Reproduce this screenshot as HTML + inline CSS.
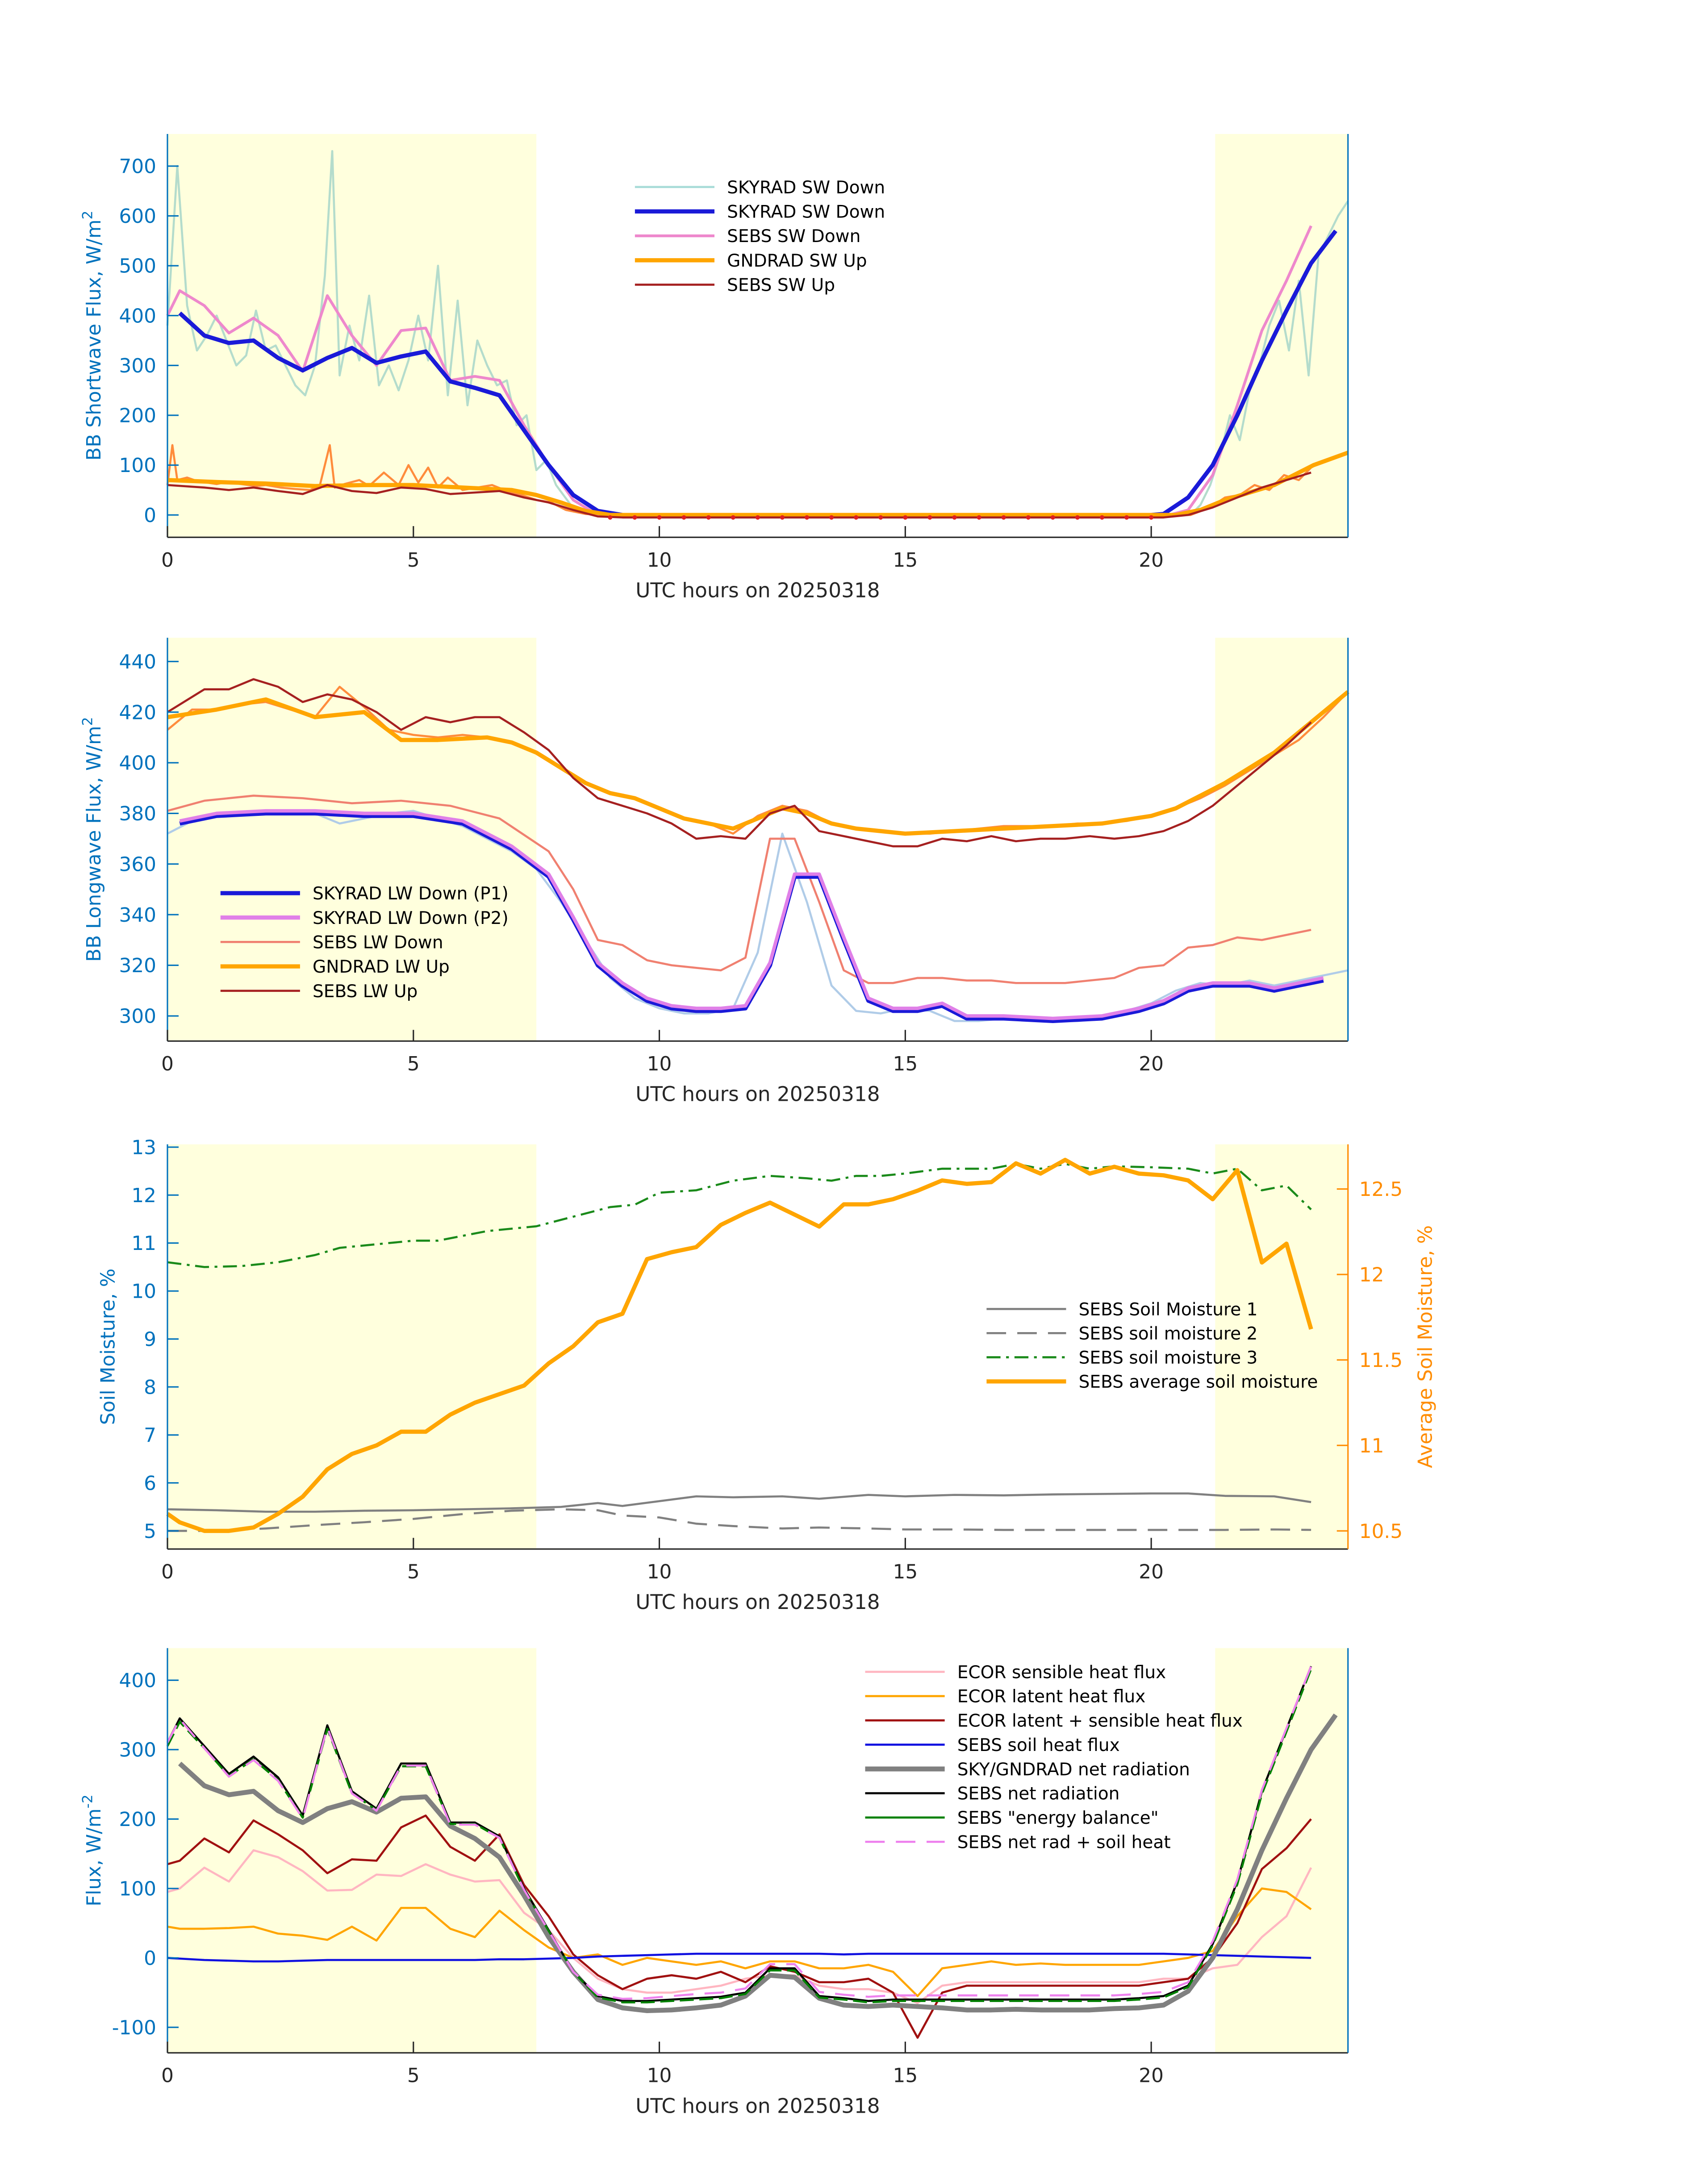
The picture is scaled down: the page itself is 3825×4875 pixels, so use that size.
<!DOCTYPE html>
<html><head><meta charset="utf-8"><style>
html,body{margin:0;padding:0;background:#fff;}
svg{display:block;font-family:"DejaVu Sans","Liberation Sans",sans-serif;}
</style></head><body>
<svg id="chart" xmlns="http://www.w3.org/2000/svg" width="3825" height="4875" viewBox="0 0 1224 1560"></svg>
<script>
// ---------- DATA ----------
// Panel 1: shortwave
const swDownT = [0.25,0.75,1.25,1.75,2.25,2.75,3.25,3.75,4.25,4.75,5.25,5.75,6.25,6.75,7.25,7.75,8.25,8.75,9.25,20,20.25,20.75,21.25,21.75,22.25,22.75,23.25,23.75];
const swDownV = [405,360,345,350,315,290,315,335,305,318,328,268,255,240,170,100,40,8,0,0,2,35,100,200,310,410,505,570];
const sebsSwDownT = [0,0.25,0.75,1.25,1.75,2.25,2.75,3.25,3.75,4.25,4.75,5.25,5.75,6.25,6.75,7.25,7.75,8.25,8.75,9.25,20.25,20.75,21.25,21.75,22.25,22.75,23.25];
const sebsSwDownV = [400,450,420,365,395,360,288,440,360,300,370,375,270,278,270,180,100,30,0,-3,-3,10,80,220,370,470,580];
const swLightT = [0,0.2,0.4,0.6,0.8,1,1.2,1.4,1.6,1.8,2,2.2,2.4,2.6,2.8,3,3.2,3.35,3.5,3.7,3.9,4.1,4.3,4.5,4.7,4.9,5.1,5.3,5.5,5.7,5.9,6.1,6.3,6.5,6.7,6.9,7.1,7.3,7.5,7.7,7.9,8.2,8.6,9,20.8,21,21.2,21.4,21.6,21.8,22,22.2,22.4,22.6,22.8,23,23.2,23.4,23.6,23.8,24];
const swLightV = [380,700,420,330,360,400,350,300,320,410,330,340,300,260,240,300,480,730,280,380,310,440,260,300,250,310,400,310,500,240,430,220,350,300,260,270,180,200,90,110,60,20,5,0,0,20,60,120,200,150,250,300,380,430,330,470,280,520,560,600,630];
const gndSwUpT = [0,1,2,3,4,5,6,7,7.5,8,8.5,9,20.5,21,21.5,22,22.5,23,23.3,24];
const gndSwUpV = [70,66,63,58,60,60,55,50,40,25,8,0,0,10,30,45,60,85,100,125];
const swUpNoisyT = [0,0.1,0.2,0.4,0.6,0.8,1,1.2,1.5,1.8,2,2.3,2.6,2.9,3.1,3.3,3.4,3.6,3.9,4.1,4.4,4.7,4.9,5.1,5.3,5.5,5.7,6,6.3,6.6,6.9,7.2,7.5,7.8,8.1,8.5,9,20.8,21.2,21.5,21.8,22.1,22.4,22.7,23,23.3,23.6,24];
const swUpNoisyV = [60,140,70,75,68,65,62,66,62,58,60,55,52,50,60,140,55,62,70,58,85,60,100,65,95,55,75,50,55,60,48,40,30,25,10,2,0,0,15,35,40,60,50,80,70,100,110,125];
const sebsSwUpT = [0,0.75,1.25,1.75,2.25,2.75,3.25,3.75,4.25,4.75,5.25,5.75,6.25,6.75,7.25,7.75,8.25,8.75,9.25,20.25,20.75,21.25,21.75,22.25,22.75,23.25];
const sebsSwUpV = [60,55,50,55,48,42,60,48,44,55,52,42,45,48,35,25,10,-3,-5,-5,0,15,35,55,70,85];
const swUpDotsT = [9,9.5,10,10.5,11,11.5,12,12.5,13,13.5,14,14.5,15,15.5,16,16.5,17,17.5,18,18.5,19,19.5,20];

// Panel 2: longwave
const lwT = [0.25,1,2,3,4,5,6,7,7.75,8.25,8.75,9.25,9.75,10.25,10.75,11.25,11.75,12.25,12.75,13.25,13.75,14.25,14.75,15.25,15.75,16.25,17,18,19,19.75,20.25,20.75,21.25,22,22.5,23,23.5];
const lwDownP1 = [376,379,380,380,379,379,376,366,355,338,320,312,306,303,302,302,303,320,355,355,330,306,302,302,304,299,299,298,299,302,305,310,312,312,310,312,314];
const lwDownP2 = [377,380,381,381,380,380,377,367,356,339,321,313,307,304,303,303,304,321,356,356,331,307,303,303,305,300,300,299,300,303,306,311,313,313,311,313,315];
const sebsLwDownT = [0,0.75,1.75,2.75,3.75,4.75,5.75,6.75,7.75,8.25,8.75,9.25,9.75,10.25,10.75,11.25,11.75,12.25,12.75,13.25,13.75,14.25,14.75,15.25,15.75,16.25,16.75,17.25,17.75,18.25,19.25,19.75,20.25,20.75,21.25,21.75,22.25,22.75,23.25];
const sebsLwDownV = [381,385,387,386,384,385,383,378,365,350,330,328,322,320,319,318,323,370,370,345,318,313,313,315,315,314,314,313,313,313,315,319,320,327,328,331,330,332,334];
const gndLwUpT = [0,1,2,3,4,4.75,5.5,6.5,7,7.5,8,8.5,9,9.5,10,10.5,11,11.5,12,12.5,13,13.5,14,15,16,17,18,19,20,20.5,21,21.5,22,22.5,23,24];
const gndLwUpV = [418,421,425,418,420,409,409,410,408,404,398,392,388,386,382,378,376,374,378,382,380,376,374,372,373,374,375,376,379,382,387,392,398,404,412,428];
const sebsLwUpT = [0,0.75,1.25,1.75,2.25,2.75,3.25,3.75,4.25,4.75,5.25,5.75,6.25,6.75,7.25,7.75,8.25,8.75,9.25,9.75,10.25,10.75,11.25,11.75,12.25,12.75,13.25,13.75,14.25,14.75,15.25,15.75,16.25,16.75,17.25,17.75,18.25,18.75,19.25,19.75,20.25,20.75,21.25,21.75,22.25,22.75,23.25];
const sebsLwUpV = [420,429,429,433,430,424,427,425,420,413,418,416,418,418,412,405,394,386,383,380,376,370,371,370,380,383,373,371,369,367,367,370,369,371,369,370,370,371,370,371,373,377,383,391,399,407,416];
const lwUpNoisy = [413,421,421,423,424,421,418,430,422,413,411,410,411,410,408,404,398,392,388,386,382,378,376,372,379,383,381,376,374,373,372,372,373,374,375,375,375,376,376,377,379,382,386,391,397,403,409,418,428];
const lwDownNoisy = [372,377,379,380,380,381,380,376,378,380,381,378,375,370,365,358,345,330,315,307,303,301,301,303,325,372,345,312,302,301,303,302,298,298,299,299,298,298,299,302,305,310,313,312,314,312,314,316,318];

// Panel 3: soil moisture
const soilT = [0,1,2,3,4,5,6,7,8,8.75,9.25,10,10.75,11.5,12.5,13.25,14.25,15,16,17,18,19,20,20.75,21.5,22.5,23.25];
const soil1 = [5.45,5.43,5.4,5.4,5.42,5.43,5.45,5.47,5.5,5.58,5.52,5.62,5.72,5.7,5.72,5.67,5.75,5.72,5.75,5.74,5.76,5.77,5.78,5.78,5.73,5.72,5.6];
const soil2 = [5.0,5.0,5.05,5.12,5.18,5.25,5.35,5.42,5.45,5.43,5.32,5.28,5.15,5.1,5.05,5.07,5.05,5.03,5.03,5.02,5.02,5.02,5.02,5.02,5.02,5.03,5.02];
const soil3T = [0,0.75,1.5,2.25,3,3.5,4.5,5,5.5,6.5,7.5,8.25,9,9.5,10,10.75,11.5,12.25,13,13.5,14,14.5,15,15.75,16.75,17.25,17.75,18.25,18.75,19.25,20,20.75,21.25,21.75,22.25,22.75,23.25];
const soil3 = [10.6,10.5,10.52,10.6,10.75,10.9,11.0,11.05,11.05,11.25,11.35,11.55,11.75,11.8,12.05,12.1,12.3,12.4,12.35,12.3,12.4,12.4,12.45,12.55,12.55,12.65,12.55,12.65,12.55,12.6,12.58,12.55,12.45,12.55,12.1,12.2,11.7];
const avgT = [0,0.25,0.75,1.25,1.75,2.25,2.75,3.25,3.75,4.25,4.75,5.25,5.75,6.25,6.75,7.25,7.75,8.25,8.75,9.25,9.75,10.25,10.75,11.25,11.75,12.25,12.75,13.25,13.75,14.25,14.75,15.25,15.75,16.25,16.75,17.25,17.75,18.25,18.75,19.25,19.75,20.25,20.75,21.25,21.75,22.25,22.75,23.25];
const avgSoil = [10.6,10.55,10.5,10.5,10.52,10.6,10.7,10.86,10.95,11.0,11.08,11.08,11.18,11.25,11.3,11.35,11.48,11.58,11.72,11.77,12.09,12.13,12.16,12.29,12.36,12.42,12.35,12.28,12.41,12.41,12.44,12.49,12.55,12.53,12.54,12.65,12.59,12.67,12.59,12.63,12.59,12.58,12.55,12.44,12.61,12.07,12.18,11.68];

// Panel 4: fluxes
const fluxT = [0,0.25,0.75,1.25,1.75,2.25,2.75,3.25,3.75,4.25,4.75,5.25,5.75,6.25,6.75,7.25,7.75,8.25,8.75,9.25,9.75,10.25,10.75,11.25,11.75,12.25,12.75,13.25,13.75,14.25,14.75,15.25,15.75,16.25,16.75,17.25,17.75,18.25,18.75,19.25,19.75,20.25,20.75,21.25,21.75,22.25,22.75,23.25,23.75];
const ecorSens = [95,100,130,110,155,145,125,97,98,120,118,135,120,110,112,65,40,0,-30,-45,-50,-50,-45,-40,-30,-25,-25,-40,-45,-45,-50,-65,-40,-35,-35,-35,-35,-35,-35,-35,-35,-30,-30,-15,-10,30,60,130,null];
const ecorLat = [45,42,42,43,45,35,32,26,45,25,72,72,42,30,68,40,15,0,5,-10,0,-5,-10,-5,-15,-5,-5,-15,-15,-10,-20,-55,-15,-10,-5,-10,-8,-10,-10,-10,-10,-5,0,10,60,100,95,70,null];
const ecorSum = [135,140,172,152,198,178,155,122,142,140,188,205,160,140,178,105,60,5,-25,-45,-30,-25,-30,-20,-35,-12,-20,-35,-35,-30,-50,-115,-50,-40,-40,-40,-40,-40,-40,-40,-40,-35,-30,0,50,128,158,200,null];
const soilHeat = [0,-1,-3,-4,-5,-5,-4,-3,-3,-3,-3,-3,-3,-3,-2,-2,-1,0,2,3,4,5,6,6,6,6,6,6,5,6,6,6,6,6,6,6,6,6,6,6,6,6,5,4,3,2,1,0,null];
const skyNet = [null,280,248,235,240,212,195,215,225,210,230,232,190,172,145,90,30,-20,-60,-72,-76,-75,-72,-68,-55,-25,-28,-58,-68,-70,-68,-70,-72,-75,-75,-74,-75,-75,-75,-73,-72,-68,-48,0,70,155,230,300,350];
const sebsNet = [310,345,305,265,290,260,205,335,240,215,280,280,195,195,175,100,40,-20,-55,-62,-62,-60,-58,-56,-50,-15,-15,-55,-58,-62,-60,-60,-60,-60,-60,-60,-60,-60,-60,-60,-58,-55,-40,20,110,240,330,420,null];
const energyBal = [305,340,302,262,286,256,202,330,237,213,276,276,193,193,173,98,39,-20,-57,-64,-64,-62,-60,-58,-52,-18,-18,-57,-60,-64,-62,-62,-62,-62,-62,-62,-62,-62,-62,-62,-60,-57,-42,18,106,236,326,416,null];
const netPlusSoil = [310,344,302,261,285,255,201,332,237,212,277,277,192,192,173,98,39,-20,-53,-59,-58,-55,-52,-50,-44,-9,-9,-49,-53,-56,-54,-54,-54,-54,-54,-54,-54,-54,-54,-54,-52,-49,-35,24,113,242,331,420,null];

// ---------- DRAWING ----------
const svg = document.getElementById('chart');
const NS = 'http://www.w3.org/2000/svg';
const X0 = 120, X1 = 966;
const BLUE = '#0072BD';
function el(tag, attrs, parent) {
  const e = document.createElementNS(NS, tag);
  for (const k in attrs) e.setAttribute(k, attrs[k]);
  (parent || svg).appendChild(e);
  return e;
}
function xs(h) { return X0 + h * (X1 - X0) / 24; }
function makeY(v1, p1, v2, p2) { return v => p1 + (v - v1) * (p2 - p1) / (v2 - v1); }
function pathD(ts, vs, ys) {
  let d = '', pen = false;
  for (let i = 0; i < ts.length && i < vs.length; i++) {
    if (vs[i] === null || vs[i] === undefined) { pen = false; continue; }
    d += (pen ? 'L' : 'M') + xs(ts[i]).toFixed(2) + ',' + ys(vs[i]).toFixed(2);
    pen = true;
  }
  return d;
}
function stepT(n, start, step) { const a = []; for (let i = 0; i < n; i++) a.push(start + i * step); return a; }

function panel(g, top, bottom, yTicks, ys, ylabel, rightColor) {
  el('rect', {x: X0, y: top, width: xs(7.5) - X0, height: bottom - top, fill: '#ffffdd'}, g);
  el('rect', {x: xs(21.3), y: top, width: X1 - xs(21.3), height: bottom - top, fill: '#ffffdd'}, g);
}
function axes(g, top, bottom, yTicks, ys, ylabel, rightColor, ylabelX) {
  const ax = el('g', {}, g);
  
  
  el('line', {x1: X0, y1: bottom, x2: X1, y2: bottom, stroke: '#262626', 'stroke-width': 1}, ax);
  el('line', {x1: X0, y1: top, x2: X0, y2: bottom, stroke: BLUE, 'stroke-width': 1}, ax);
  el('line', {x1: X1, y1: top, x2: X1, y2: bottom, stroke: rightColor, 'stroke-width': 1}, ax);
  [0, 5, 10, 15, 20].forEach(h => {
    el('line', {x1: xs(h), y1: bottom, x2: xs(h), y2: bottom - 8, stroke: '#262626', 'stroke-width': 1}, ax);
    const t = el('text', {x: xs(h), y: bottom + 21, 'text-anchor': 'middle', 'font-size': 14, fill: '#262626'}, ax);
    t.textContent = h;
    
    
  });
  const xl = el('text', {x: 543, y: bottom + 43, 'text-anchor': 'middle', 'font-size': 14.5, fill: '#262626'}, ax);
  xl.textContent = 'UTC hours on 20250318';
  
  
  yTicks.forEach(v => {
    el('line', {x1: X0, y1: ys(v), x2: X0 + 8, y2: ys(v), stroke: BLUE, 'stroke-width': 1}, ax);
    const t = el('text', {x: X0 - 8, y: ys(v) + 5, 'text-anchor': 'end', 'font-size': 14, fill: BLUE}, ax);
    t.textContent = v;
    
    
  });
  const cy = (top + bottom) / 2;
  const yl = el('text', {x: ylabelX, y: cy, 'text-anchor': 'middle', 'font-size': 14, fill: BLUE, transform: `rotate(-90 ${ylabelX} ${cy})`}, ax);
  yl.innerHTML = ylabel;
  
  
}
function line(g, name, ts, vs, ys, color, w, dash) {
  const p = el('path', {d: pathD(ts, vs, ys), fill: 'none', stroke: color, 'stroke-width': w, 'stroke-linejoin': 'round'}, g);
  if (dash) p.setAttribute('stroke-dasharray', dash);
  
  
  return p;
}
function legend(g, x, y0, dy, entries) {
  const lg = el('g', {}, g);
  
  
  entries.forEach((e, i) => {
    const y = y0 + i * dy;
    const ln = el('line', {x1: x, y1: y, x2: x + 57, y2: y, stroke: e[1], 'stroke-width': e[2]}, lg);
    if (e[3]) ln.setAttribute('stroke-dasharray', e[3]);
    const t = el('text', {x: x + 66, y: y + 4.5, 'font-size': 12.5, fill: '#000'}, lg);
    t.textContent = e[0];
    
    
  });
}

// Panel 1
(function () {
  const g = el('g', {});  
  const ys = makeY(0, 369, 700, 119);
  panel(g, 96, 385);
  line(g, 'skyrad-sw-down-raw', swLightT, swLightV, ys, '#b4dccc', 1.5);
  line(g, 'gndrad-sw-up-raw', swUpNoisyT, swUpNoisyV, ys, '#ff8c3c', 1.5);
  line(g, 'sebs-sw-down', sebsSwDownT, sebsSwDownV, ys, '#ee88cc', 2);
  line(g, 'skyrad-sw-down', swDownT, swDownV, ys, '#1a1ad8', 3);
  line(g, 'gndrad-sw-up', gndSwUpT, gndSwUpV, ys, '#ffa500', 3);
  line(g, 'sebs-sw-up', sebsSwUpT, sebsSwUpV, ys, '#a52020', 1.5);
  swUpDotsT.forEach(t => { const c = el('circle', {cx: xs(t), cy: ys(-5), r: 1.6, fill: '#e02020'}, g);   });
  axes(g, 96, 385, [0,100,200,300,400,500,600,700], ys, 'BB Shortwave Flux, W/m<tspan dy="-6" font-size="10">2</tspan>', BLUE, 72);
  legend(g, 455, 134, 17.5, [['SKYRAD SW Down', '#a8dcd8', 1.5], ['SKYRAD SW Down', '#1a1ad8', 3], ['SEBS SW Down', '#ee88cc', 2], ['GNDRAD SW Up', '#ffa500', 3], ['SEBS SW Up', '#a52020', 1.5]]);
})();

// Panel 2
(function () {
  const g = el('g', {});  
  const ys = makeY(300, 728, 440, 474);
  panel(g, 457, 746);
  const t49 = stepT(49, 0, 0.5);
  line(g, 'skyrad-lw-down-raw', t49, lwDownNoisy, ys, '#b0cce8', 1.5);
  line(g, 'gndrad-lw-up-raw', t49, lwUpNoisy, ys, '#ff8c3c', 1.5);
  line(g, 'sebs-lw-down', sebsLwDownT, sebsLwDownV, ys, '#f08070', 1.5);
  line(g, 'skyrad-lw-down-p1', lwT, lwDownP1, ys, '#1a1ad8', 3);
  line(g, 'skyrad-lw-down-p2', lwT, lwDownP2, ys, '#e080e8', 2.5);
  line(g, 'gndrad-lw-up', gndLwUpT, gndLwUpV, ys, '#ffa500', 3);
  line(g, 'sebs-lw-up', sebsLwUpT, sebsLwUpV, ys, '#a52020', 1.5);
  axes(g, 457, 746, [300,320,340,360,380,400,420,440], ys, 'BB Longwave Flux, W/m<tspan dy="-6" font-size="10">2</tspan>', BLUE, 72);
  legend(g, 158, 640, 17.5, [['SKYRAD LW Down (P1)', '#1a1ad8', 3], ['SKYRAD LW Down (P2)', '#e080e8', 3], ['SEBS LW Down', '#f08070', 1.5], ['GNDRAD LW Up', '#ffa500', 3], ['SEBS LW Up', '#a52020', 1.5]]);
})();

// Panel 3
(function () {
  const g = el('g', {});  
  const ys = makeY(5, 1097, 13, 822);
  const yr = makeY(10.5, 1097, 12.5, 852);
  panel(g, 820, 1110);
  line(g, 'sebs-soil-moisture-1', soilT, soil1, ys, '#808080', 1.5);
  line(g, 'sebs-soil-moisture-2', soilT, soil2, ys, '#808080', 1.5, '14 8');
  line(g, 'sebs-soil-moisture-3', soil3T, soil3, ys, '#1a8a1a', 1.5, '10 4 2 4');
  line(g, 'sebs-average-soil-moisture', avgT, avgSoil, yr, '#ffa500', 3);
  axes(g, 820, 1110, [5,6,7,8,9,10,11,12,13], ys, 'Soil Moisture, %', '#ff8c00', 82);
  [10.5, 11, 11.5, 12, 12.5].forEach(v => {
    el('line', {x1: X1, y1: yr(v), x2: X1 - 8, y2: yr(v), stroke: '#ff8c00', 'stroke-width': 1}, g);
    const t = el('text', {x: X1 + 8, y: yr(v) + 5, 'font-size': 14, fill: '#ff8c00'}, g);
    t.textContent = v;
    
    
  });
  const rl = el('text', {x: 1026, y: 965, 'text-anchor': 'middle', 'font-size': 14, fill: '#ff8c00', transform: 'rotate(-90 1026 965)'}, g);
  rl.textContent = 'Average Soil Moisture, %';
  
  
  legend(g, 707, 938, 17.3, [['SEBS Soil Moisture 1', '#808080', 1.5], ['SEBS soil moisture 2', '#808080', 1.5, '14 8'], ['SEBS soil moisture 3', '#1a8a1a', 1.5, '10 4 2 4'], ['SEBS average soil moisture', '#ffa500', 3]]);
})();

// Panel 4
(function () {
  const g = el('g', {});  
  const ys = makeY(0, 1403, 400, 1204);
  panel(g, 1181, 1471);
  line(g, 'ecor-sensible-heat-flux', fluxT, ecorSens, ys, '#ffb6c1', 1.5);
  line(g, 'ecor-latent-heat-flux', fluxT, ecorLat, ys, '#ffa500', 1.5);
  line(g, 'ecor-latent-plus-sensible', fluxT, ecorSum, ys, '#a01010', 1.5);
  line(g, 'sebs-soil-heat-flux', fluxT, soilHeat, ys, '#1010e0', 1.5);
  line(g, 'sky-gndrad-net-radiation', fluxT, skyNet, ys, '#808080', 3.5);
  line(g, 'sebs-net-radiation', fluxT, sebsNet, ys, '#000', 1.5);
  line(g, 'sebs-energy-balance', fluxT, energyBal, ys, '#008000', 1.5, '10 4');
  line(g, 'sebs-net-rad-plus-soil-heat', fluxT, netPlusSoil, ys, '#ee82ee', 1.5, '14 8');
  axes(g, 1181, 1471, [-100,0,100,200,300,400], ys, 'Flux, W/m<tspan dy="-6" font-size="10">-2</tspan>', BLUE, 72);
  legend(g, 620, 1198, 17.4, [['ECOR sensible heat flux', '#ffb6c1', 1.5], ['ECOR latent heat flux', '#ffa500', 1.5], ['ECOR latent + sensible heat flux', '#a01010', 1.5], ['SEBS soil heat flux', '#1010e0', 1.5], ['SKY/GNDRAD net radiation', '#808080', 3.5], ['SEBS net radiation', '#000', 1.5], ['SEBS "energy balance"', '#008000', 1.5], ['SEBS net rad + soil heat', '#ee82ee', 1.5, '14 8']]);
})();
</script>
</body></html>
